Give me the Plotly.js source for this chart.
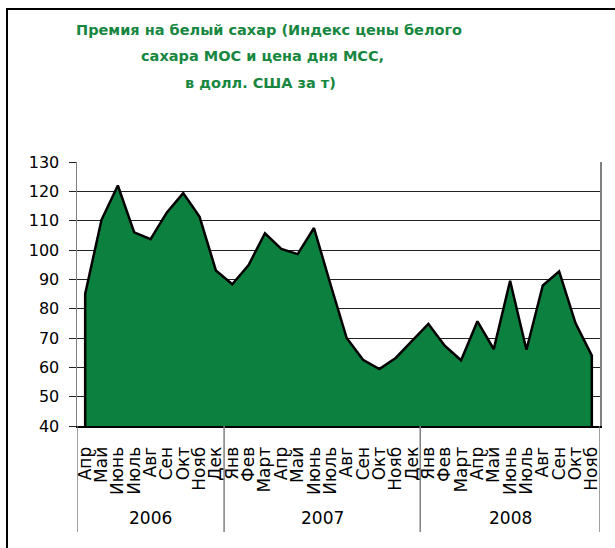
<!DOCTYPE html>
<html>
<head>
<meta charset="utf-8">
<script src="https://cdn.plot.ly/plotly-3.0.1.min.js"></script>
<style>
  html, body { margin: 0; padding: 0; background: #ffffff; }
  #chart { width: 615px; height: 548px; }
</style>
</head>
<body>
<div id="chart"></div>
<script>
// ---- data ----
const years = ['2006', '2007', '2008'];
const months2006 = ['Апр','Май','Июнь','Июль','Авг','Сен','Окт','Нояб','Дек'];
const months2007 = ['Янв','Фев','Март','Апр','Май','Июнь','Июль','Авг','Сен','Окт','Нояб','Дек'];
const months2008 = ['Янв','Фев','Март','Апр','Май','Июнь','Июль','Авг','Сен','Окт','Нояб'];
const values2006 = [85, 110.3, 122, 106, 103.7, 112.8, 119.4, 111.3, 93];
const values2007 = [88.3, 94.9, 105.7, 100.4, 98.6, 107.5, 88.5, 70, 62.6, 59.4, 63.2, 69.1];
const values2008 = [74.8, 67.4, 62.4, 75.7, 66.2, 89.5, 66, 87.9, 92.7, 75.1, 64];
const titleLines = [
  'Премия на белый сахар (Индекс цены белого',
  'сахара МОС и цена дня МСС,',
  'в долл. США за т)'
];
const yMin = 40, yMax = 130;

// ---- build series ----
const monthGroups = [months2006, months2007, months2008];
const valueGroups = [values2006, values2007, values2008];
const monthLabels = [].concat(...monthGroups);
const yVal = [].concat(...valueGroups);
const n = yVal.length;
const xIdx = yVal.map((_, i) => i);
// closed area polygon: baseline -> data -> baseline
const polyX = [xIdx[0]].concat(xIdx, [xIdx[n - 1]]);
const polyY = [yMin].concat(yVal, [yMin]);

// group boundaries and centres (derived from the group lengths)
const bounds = [-0.5];
const centres = [];
monthGroups.forEach(ms => {
  const start = bounds[bounds.length - 1];
  const end = start + ms.length;
  centres.push((start + end) / 2);
  bounds.push(end);
});

const GREEN_FILL = '#0c803e';
const GREEN_TEXT = '#17873f';
const FONT = 'DejaVu Sans, Liberation Sans, Arial, sans-serif';

const W = 615, H = 548;
const mL = 77, mR = 15, mT = 162, mB = 122;
const pw = W - mL - mR, ph = H - mT - mB;
const px2x = p => (p - mL) / pw;
const px2y = p => (H - mB - p) / ph;

const trace = {
  type: 'scatter',
  mode: 'lines',
  x: polyX,
  y: polyY,
  fill: 'toself',
  fillcolor: GREEN_FILL,
  line: { color: '#000000', width: 2.5 },
  hoverinfo: 'skip',
  showlegend: false,
  cliponaxis: true
};

const titlePos = [[269, 30], [262, 56], [260, 83]];
const annotations = titleLines.map((t, i) => ({
  text: '<b>' + t + '</b>',
  xref: 'paper', yref: 'paper',
  x: px2x(titlePos[i][0]), y: px2y(titlePos[i][1]),
  xanchor: 'center', yanchor: 'middle',
  showarrow: false,
  font: { family: FONT, size: 14.5, color: GREEN_TEXT }
})).concat(years.map((yr, i) => ({
  text: yr,
  xref: 'x', yref: 'paper',
  x: centres[i], y: px2y(518),
  xanchor: 'center', yanchor: 'middle',
  showarrow: false,
  font: { family: FONT, size: 17, color: '#000000' }
})));

const shapes = [{
  type: 'rect', xref: 'paper', yref: 'paper', layer: 'below',
  x0: px2x(7), x1: px2x(640), y0: px2y(580), y1: px2y(9),
  line: { color: '#000000', width: 2 }, fillcolor: 'rgba(0,0,0,0)'
}].concat(bounds.map(b => ({
  type: 'line', xref: 'x', yref: 'paper', layer: 'above',
  x0: b, x1: b, y0: 0, y1: px2y(532),
  line: { color: '#808080', width: 1.5 }
})));

const layout = {
  width: W, height: H,
  margin: { l: mL, r: mR, t: mT, b: mB, pad: 0 },
  paper_bgcolor: 'rgba(0,0,0,0)',
  plot_bgcolor: '#ffffff',
  showlegend: false,
  annotations: annotations,
  shapes: shapes,
  xaxis: {
    range: [bounds[0], bounds[bounds.length - 1]],
    tickmode: 'array',
    tickvals: xIdx,
    ticktext: monthLabels,
    tickangle: -90,
    ticks: '',
    showgrid: false,
    showline: true, linecolor: '#000000', linewidth: 2,
    tickfont: { family: FONT, size: 17, color: '#000000' },
    ticklabelstandoff: 12,
    zeroline: false
  },
  yaxis: {
    range: [yMin, yMax],
    dtick: 10, tick0: 0,
    showgrid: true, gridcolor: '#222222', gridwidth: 1,
    showline: true, linecolor: '#808080', linewidth: 1.5, mirror: true,
    ticks: 'outside', ticklen: 7, tickcolor: '#222222', tickwidth: 1,
    tickfont: { family: FONT, size: 16, color: '#000000' },
    ticklabelstandoff: 6,
    zeroline: false
  }
};

Plotly.newPlot('chart', [trace], layout, { displayModeBar: false, staticPlot: true });
</script>
</body>
</html>
